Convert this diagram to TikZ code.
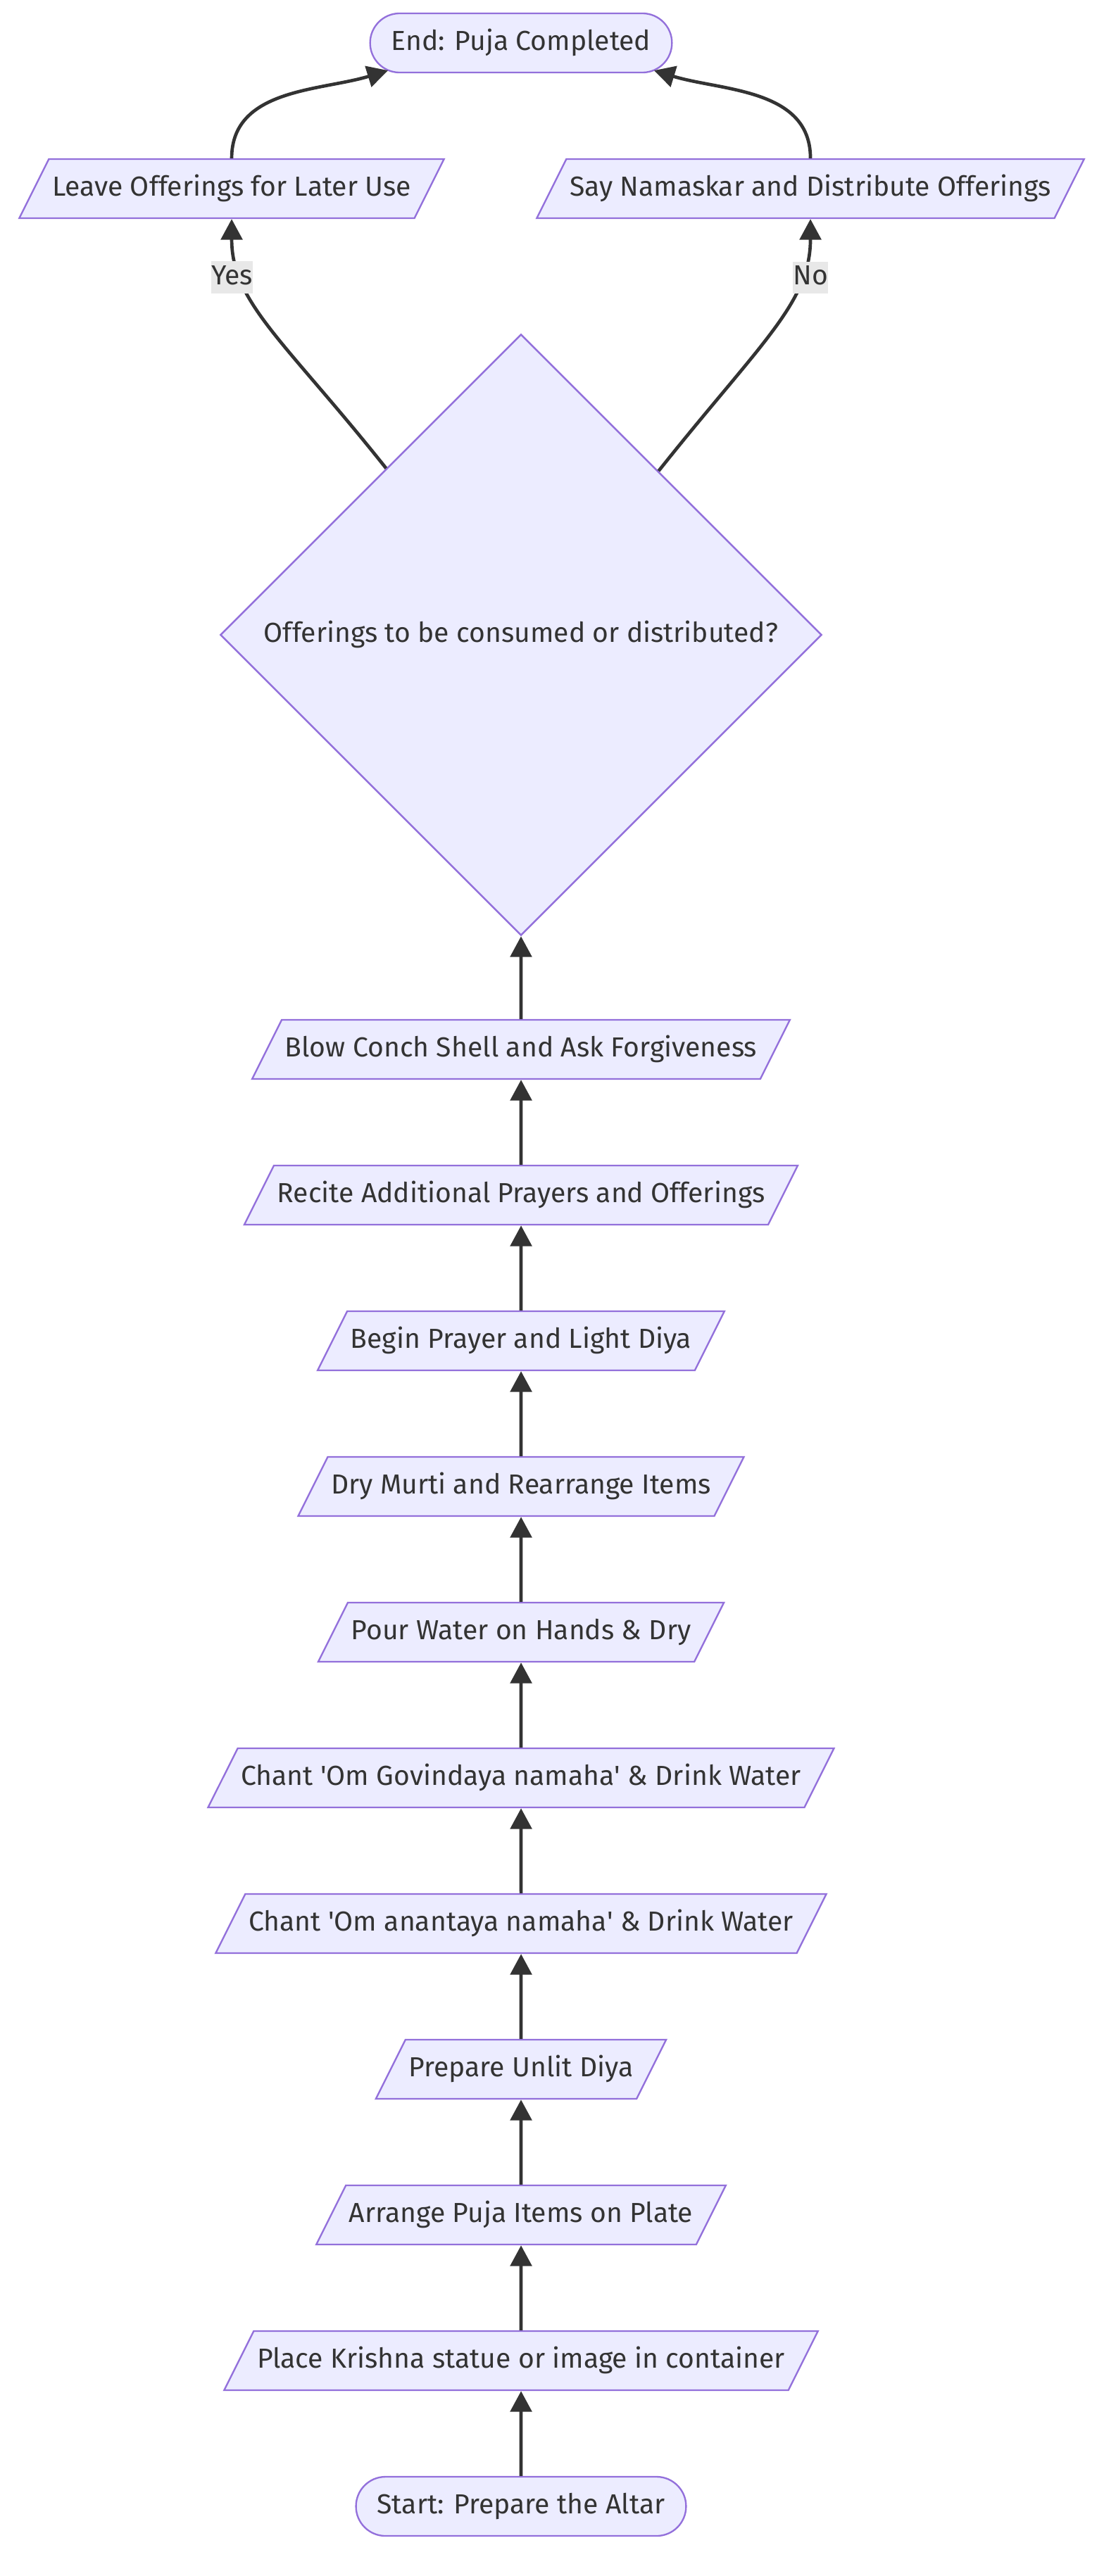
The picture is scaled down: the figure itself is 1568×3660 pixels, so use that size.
\documentclass[tikz,border=0pt]{standalone}
\usepackage{fontspec}
\setmainfont{Fira Sans}
\usetikzlibrary{shapes.geometric,arrows.meta}
\definecolor{mmfill}{HTML}{ECECFF}
\definecolor{mmline}{HTML}{9370DB}
\definecolor{mmtext}{HTML}{333333}
\definecolor{mmlabel}{HTML}{E8E8E8}
\tikzset{
  nodefont/.style={font=\fontsize{12.5}{15}\selectfont, text=mmtext, text height=9.5pt, text depth=3pt},
  stepbox/.style={nodefont, trapezium, trapezium left angle=63.43, trapezium right angle=116.57, draw=mmline, fill=mmfill, line width=0.75pt, inner xsep=1.5pt, inner ysep=7.18pt},
  endbox/.style={nodefont, rectangle, rounded corners=13.4pt, draw=mmline, fill=mmfill, line width=0.75pt, inner xsep=9.6pt, inner ysep=7.18pt},
  choice/.style={nodefont, diamond, aspect=1, draw=mmline, fill=mmfill, line width=0.75pt, inner sep=0pt, minimum width=273pt, minimum height=273pt},
  tag/.style={font=\fontsize{12.5}{15}\selectfont, text=mmtext, fill=mmlabel, inner sep=0pt, text height=10.4pt, text depth=4pt},
  flow/.style={draw=mmtext, line width=1.5pt, -{Triangle[length=9.4pt,width=9.7pt]}}
}
\begin{document}
\begin{tikzpicture}[x=0.3196pt, y=0.3196pt]
\useasboundingbox (0,0) rectangle (1568,-3660);
\node[endbox] (stop) at (740,-61) {End: Puja Completed};
\node[stepbox] (leave) at (329,-268) {Leave Offerings for Later Use};
\node[stepbox] (share) at (1151,-268) {Say Namaskar and Distribute Offerings};
\node[choice] (ask) at (740,-902) {Offerings to be consumed or distributed?};
\node[stepbox] (conch) at (740,-1491) {Blow Conch Shell and Ask Forgiveness};
\node[stepbox] (recite) at (740,-1698) {Recite Additional Prayers and Offerings};
\node[stepbox] (pray) at (740,-1905) {Begin Prayer and Light Diya};
\node[stepbox] (dry) at (740,-2112) {Dry Murti and Rearrange Items};
\node[stepbox] (pour) at (740,-2319) {Pour Water on Hands \& Dry};
\node[stepbox] (govinda) at (740,-2526) {Chant \textquotesingle Om Govindaya namaha\textquotesingle{} \& Drink Water};
\node[stepbox] (ananta) at (740,-2733) {Chant \textquotesingle Om anantaya namaha\textquotesingle{} \& Drink Water};
\node[stepbox] (diya) at (740,-2940) {Prepare Unlit Diya};
\node[stepbox] (plate) at (740,-3147) {Arrange Puja Items on Plate};
\node[stepbox] (place) at (740,-3354) {Place Krishna statue or image in container};
\node[endbox] (start) at (740,-3561) {Start: Prepare the Altar};
\draw[flow] (start.north) -- (place.south);
\draw[flow] (place.north) -- (plate.south);
\draw[flow] (plate.north) -- (diya.south);
\draw[flow] (diya.north) -- (ananta.south);
\draw[flow] (ananta.north) -- (govinda.south);
\draw[flow] (govinda.north) -- (pour.south);
\draw[flow] (pour.north) -- (dry.south);
\draw[flow] (dry.north) -- (pray.south);
\draw[flow] (pray.north) -- (recite.south);
\draw[flow] (recite.north) -- (conch.south);
\draw[flow] (conch.north) -- (ask.south);
\draw[flow] (ask.129.6) to[out=128.5,in=-90,out looseness=1.43,in looseness=0.73] node[tag,pos=0.74,xshift=-4.6pt] {Yes} (leave.south);
\draw[flow] (ask.50.4) to[out=51.5,in=-90,out looseness=1.43,in looseness=0.73] node[tag,pos=0.74,xshift=4.6pt] {No} (share.south);
\draw[flow] (leave.north) to[out=90,in=-163] ([xshift=-60.4pt,yshift=-12.5pt]stop.center);
\draw[flow] (share.north) to[out=90,in=-17] ([xshift=60.4pt,yshift=-12.5pt]stop.center);
\end{tikzpicture}
\end{document}
